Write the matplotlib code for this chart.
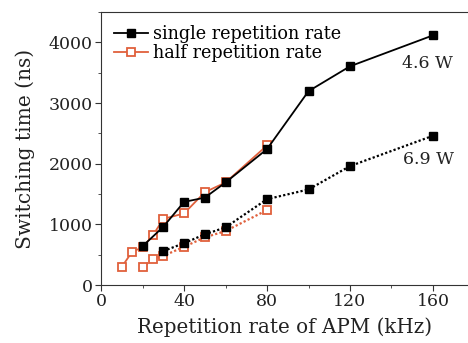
import matplotlib
matplotlib.use("Agg")
import matplotlib.pyplot as plt
from matplotlib.ticker import MultipleLocator

plt.rcParams['font.family'] = ['DejaVu Serif']
plt.rcParams['mathtext.fontset'] = 'dejavuserif'

# 4.6 W
single_46_x = [20, 30, 40, 50, 60, 80, 100, 120, 160]
single_46_y = [640, 960, 1370, 1440, 1690, 2240, 3195, 3605, 4115]
half_46_x = [10, 15, 20, 25, 30, 40, 50, 60, 80]
half_46_y = [300, 550, 620, 820, 1090, 1180, 1530, 1690, 2300]
# 6.9 W
single_69_x = [30, 40, 50, 60, 80, 100, 120, 160]
single_69_y = [560, 690, 835, 950, 1415, 1575, 1960, 2460]
half_69_x = [20, 25, 30, 40, 50, 60, 80]
half_69_y = [300, 425, 480, 630, 785, 890, 1235]

orange = '#e0603c'
dots = (0, (1, 1))

fig = plt.figure(figsize=(4.68, 3.43), dpi=100)
ax = fig.add_axes([0.216, 0.169, 0.784, 0.796])

ax.plot(half_46_x, half_46_y, '-', color=orange, lw=1.3, marker='s', ms=6,
        mfc='white', mec=orange, mew=1.3, label='half repetition rate', zorder=3)
ax.plot(single_46_x, single_46_y, '-', color='black', lw=1.3, marker='s', ms=6,
        mfc='black', mec='black', label='single repetition rate', zorder=4)
ax.plot(half_69_x, half_69_y, linestyle=dots, color=orange, lw=1.6, marker='s', ms=6,
        mfc='white', mec=orange, mew=1.3, zorder=3)
ax.plot(single_69_x, single_69_y, linestyle=dots, color='black', lw=1.6, marker='s', ms=6,
        mfc='black', mec='black', zorder=4)

ax.set_xlim(0, 176.9)
ax.set_ylim(0, 4500)
ax.xaxis.set_major_locator(MultipleLocator(40))
ax.xaxis.set_minor_locator(MultipleLocator(20))
ax.yaxis.set_major_locator(MultipleLocator(1000))
ax.yaxis.set_minor_locator(MultipleLocator(500))
ax.spines['right'].set_visible(False)
for s in ['left', 'bottom', 'top']:
    ax.spines[s].set_color('#333333')
ax.tick_params(which='major', direction='out', length=4, labelsize=12.5, colors='#333333',
               labelcolor='#222222', pad=2)
ax.tick_params(which='minor', direction='out', length=2.5, colors='#333333')
ax.tick_params(top=False, which='both')

ax.set_xlabel('Repetition rate of APM (kHz)', fontsize=14.3, color='#222222', labelpad=5)
ax.set_ylabel('Switching time (ns)', fontsize=14.5, color='#222222', labelpad=10)

handles, labels = ax.get_legend_handles_labels()
ax.legend(handles[::-1], labels[::-1], loc='upper left', frameon=False, fontsize=12.7,
          handlelength=1.9, handletextpad=0.3, labelspacing=0.05,
          borderaxespad=0.35, bbox_to_anchor=(0.0, 1.0))

ax.text(157.5, 3650, '4.6 W', fontsize=12.5, ha='center', va='center', color='#222222')
ax.text(158, 2075, '6.9 W', fontsize=12.5, ha='center', va='center', color='#222222')

fig.savefig('out.png', dpi=100)
